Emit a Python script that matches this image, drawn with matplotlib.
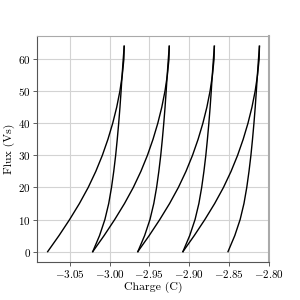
import matplotlib
matplotlib.use("Agg")
import matplotlib.pyplot as plt

plt.rcParams["font.family"] = "serif"
plt.rcParams["font.serif"] = ["cmr10", "DejaVu Serif"]
plt.rcParams["mathtext.fontset"] = "cm"
plt.rcParams["axes.formatter.use_mathtext"] = True

# flux levels shared by every branch (Vs)
flux = [0, 5, 10, 15, 20, 25, 30, 35, 40, 45, 50, 55, 60, 64]

# charge (C) of the rising branches
up1 = [-3.0775, -3.0633, -3.0500, -3.0377, -3.0267, -3.0172, -3.0090, -3.0020, -2.9960, -2.9910, -2.9870, -2.9840, -2.9820, -2.9816]
up2 = [-3.0210, -3.0068, -2.9935, -2.9812, -2.9702, -2.9607, -2.9525, -2.9455, -2.9395, -2.9345, -2.9305, -2.9275, -2.9255, -2.9251]
up3 = [-2.9645, -2.9503, -2.9370, -2.9247, -2.9137, -2.9042, -2.8960, -2.8890, -2.8830, -2.8780, -2.8740, -2.8710, -2.8690, -2.8686]
up4 = [-2.9080, -2.8938, -2.8805, -2.8682, -2.8572, -2.8477, -2.8395, -2.8325, -2.8265, -2.8215, -2.8175, -2.8145, -2.8125, -2.8121]

# charge (C) of the falling branches
down1 = [-3.0210, -3.0125, -3.0058, -3.0010, -2.9975, -2.9947, -2.9923, -2.9903, -2.9885, -2.9869, -2.9855, -2.9842, -2.9828, -2.9816]
down2 = [-2.9645, -2.9560, -2.9493, -2.9445, -2.9410, -2.9382, -2.9358, -2.9338, -2.9320, -2.9304, -2.9290, -2.9277, -2.9263, -2.9251]
down3 = [-2.9080, -2.8995, -2.8928, -2.8880, -2.8845, -2.8817, -2.8793, -2.8773, -2.8755, -2.8739, -2.8725, -2.8712, -2.8698, -2.8686]
down4 = [-2.8515, -2.8430, -2.8363, -2.8315, -2.8280, -2.8252, -2.8228, -2.8208, -2.8190, -2.8174, -2.8160, -2.8147, -2.8133, -2.8121]

xticks = [-3.05, -3.00, -2.95, -2.90, -2.85, -2.80]
yticks = [0, 10, 20, 30, 40, 50, 60]

fig = plt.figure(figsize=(3, 3), dpi=100)
ax = fig.add_axes([0.123, 0.127, 0.774, 0.753])

for q in [up1, down1, up2, down2, up3, down3, up4, down4]:
    ax.plot(q, flux, color="black", lw=1.0)

ax.set_xticks(xticks)
ax.set_yticks(yticks)
ax.set_xlim(-3.091, -2.800)
ax.set_ylim(-3.2, 67.2)
ax.grid(True, color="#d3d3d3", lw=0.8)
ax.set_axisbelow(True)
ax.tick_params(labelsize=8, length=3, width=0.6, pad=1.5, colors="#444444", labelcolor="black")
ax.spines["left"].set_color("#555555")
ax.spines["bottom"].set_color("#555555")
ax.spines["top"].set_color("#aaaaaa")
ax.spines["right"].set_color("#aaaaaa")
ax.spines["right"].set_linewidth(1.5)

ax.set_xlabel("Charge (C)", fontsize=8.5, labelpad=1)
ax.set_ylabel("Flux (Vs)", fontsize=8.5, labelpad=2)

fig.savefig("out.png", dpi=100)
